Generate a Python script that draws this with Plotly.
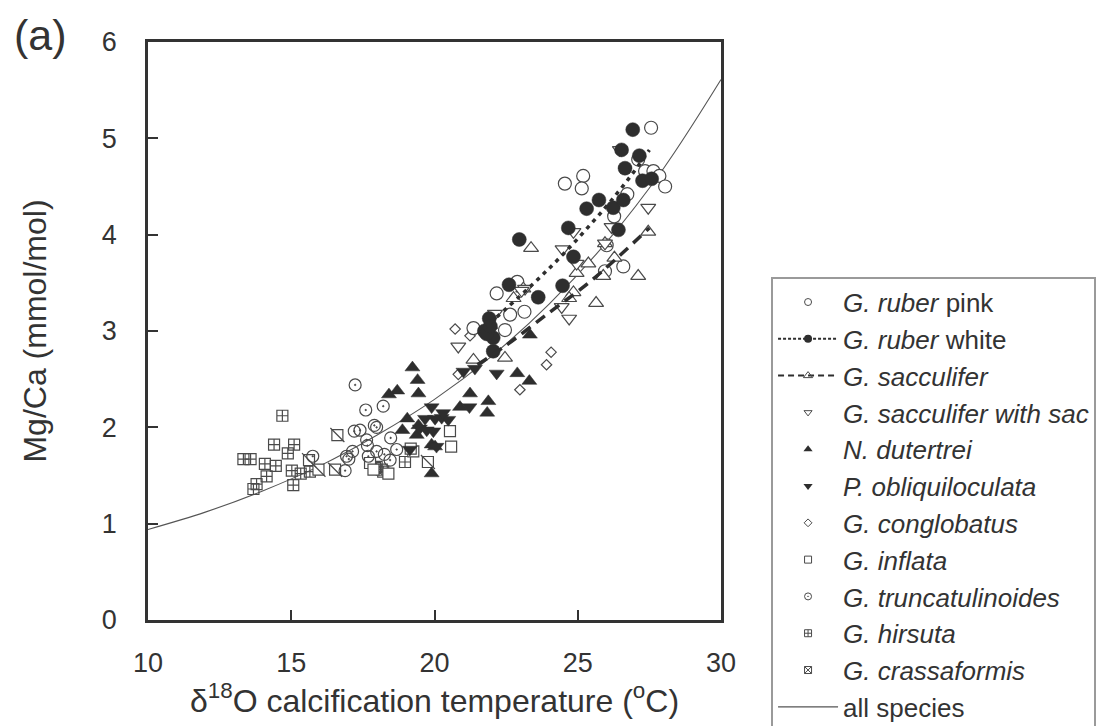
import plotly.graph_objects as go

# ---------------- data ----------------
ruber_pink_T = [27.56, 24.55, 25.19, 25.14, 27.35, 27.64, 27.85, 28.05, 27.11, 26.73, 26.27,
                26.01, 26.59, 25.95, 22.89, 22.17, 23.14, 22.64, 22.46, 21.36]
ruber_pink_Mg = [5.11, 4.53, 4.61, 4.48, 4.66, 4.66, 4.61, 4.50, 4.78, 4.42, 4.19,
                 3.89, 3.67, 3.62, 3.51, 3.39, 3.20, 3.17, 3.01, 3.03]

ruber_white_T = [26.92, 26.53, 27.15, 26.65, 27.26, 27.58, 25.74, 25.31, 26.24, 26.59, 26.42,
                 24.67, 22.96, 24.85, 22.60, 23.62, 24.47, 21.91, 21.74, 22.05, 21.82, 22.05, 21.95]
ruber_white_Mg = [5.09, 4.88, 4.82, 4.69, 4.56, 4.58, 4.36, 4.27, 4.28, 4.36, 4.05,
                  4.07, 3.95, 3.77, 3.48, 3.35, 3.47, 3.13, 3.00, 2.93, 2.97, 2.79, 3.05]

sacculifer_T = [23.37, 27.46, 27.11, 25.64, 26.28, 25.89, 25.37, 24.96, 24.85, 22.76, 23.10,
                21.94, 25.95, 22.46, 21.36, 24.70]
sacculifer_Mg = [3.86, 4.03, 3.57, 3.29, 3.76, 3.57, 3.70, 3.60, 3.40, 3.34, 3.44,
                 3.06, 3.91, 2.72, 2.70, 3.34]

sac_T = [26.47, 27.46, 25.95, 26.18, 24.47, 24.85, 24.96, 24.44, 24.70, 23.16, 22.11, 20.83, 23.04]
sac_Mg = [4.88, 4.28, 3.91, 4.08, 3.85, 4.03, 3.70, 3.25, 3.13, 3.44, 3.18, 2.84, 3.42]

dutertrei_T = [19.23, 19.41, 19.44, 18.70, 18.41, 19.05, 18.88, 19.38, 19.44, 19.90, 20.02,
               19.90, 21.24, 20.89, 21.88, 21.84, 22.89, 23.31, 23.33]
dutertrei_Mg = [2.62, 2.49, 2.35, 2.38, 2.34, 2.09, 1.97, 1.92, 2.02, 1.82, 1.80,
                1.52, 2.35, 2.21, 2.27, 2.15, 2.56, 2.48, 2.96]

obliq_T = [19.90, 19.67, 20.02, 20.25, 20.48, 19.49, 19.73, 19.96, 19.14, 20.07, 21.01,
           21.41, 22.17, 21.22, 20.30]
obliq_Mg = [2.21, 2.09, 2.09, 2.10, 2.08, 1.99, 1.97, 1.96, 1.77, 1.80, 2.58,
            2.61, 2.56, 2.21, 2.15]

conglob_T = [20.72, 21.24, 24.07, 23.91, 22.98, 20.83]
conglob_Mg = [3.02, 2.95, 2.78, 2.65, 2.39, 2.55]

inflata_T = [20.54, 20.58, 17.75, 17.87, 18.39, 19.26, 19.17]
inflata_Mg = [1.96, 1.80, 1.63, 1.56, 1.52, 1.75, 1.78]

trunc_T = [17.23, 17.60, 18.21, 17.20, 17.40, 17.90, 17.98, 18.47, 17.63, 17.66, 16.93,
           17.14, 17.01, 17.69, 17.98, 18.25, 18.68, 18.45, 15.75, 16.88]
trunc_Mg = [2.44, 2.18, 2.22, 1.96, 1.97, 2.02, 2.00, 1.89, 1.87, 1.81, 1.70,
            1.75, 1.67, 1.70, 1.75, 1.72, 1.77, 1.66, 1.70, 1.55]

hirsuta_T = [14.69, 14.40, 15.10, 13.33, 13.58, 14.88, 14.08, 14.46, 14.14, 15.02, 15.33,
             13.79, 13.68, 15.07, 15.65, 17.98, 18.21, 18.97, 17.92, 18.16]
hirsuta_Mg = [2.12, 1.82, 1.82, 1.67, 1.67, 1.73, 1.62, 1.60, 1.49, 1.55, 1.52,
              1.41, 1.36, 1.40, 1.54, 1.59, 1.54, 1.64, 1.58, 1.56]

crassa_T = [15.62, 15.95, 16.53, 16.61, 19.77]
crassa_Mg = [1.66, 1.56, 1.56, 1.92, 1.64]

# fitted curves
all_T = [10, 12, 14, 16, 18, 20, 22, 24, 26, 28, 30]
all_Mg = [0.94, 1.12, 1.34, 1.60, 1.92, 2.29, 2.74, 3.28, 3.92, 4.69, 5.61]

white_fit_T = [21.7, 23.3, 24.5, 25.9, 26.8, 27.5]
white_fit_Mg = [3.02, 3.45, 3.80, 4.26, 4.59, 4.88]

sacc_fit_T = [21.5, 22.4, 24.0, 25.5, 27.5]
sacc_fit_Mg = [2.65, 2.83, 3.19, 3.53, 4.07]

x_ticks = [10, 15, 20, 25, 30]
y_ticks = [0, 1, 2, 3, 4, 5, 6]

legend_names = ["<i>G. ruber</i> pink", "<i>G. ruber</i> white", "<i>G. sacculifer</i>",
                "<i>G. sacculifer with sac</i>", "<i>N. dutertrei</i>", "<i>P. obliquiloculata</i>",
                "<i>G. conglobatus</i>", "<i>G. inflata</i>", "<i>G. truncatulinoides</i>",
                "<i>G. hirsuta</i>", "<i>G. crassaformis</i>", "all species"]

# ---------------- styles ----------------
DARK = "#2e2e2e"
EDGE = "#4a4a4a"
TXT = "#333333"
FONT = "Liberation Sans, Arial, sans-serif"

fig = go.Figure()

# all-species curve (under markers)
fig.add_trace(go.Scatter(x=all_T, y=all_Mg, mode="lines", line=dict(color="#555", width=1.1, shape="spline"),
                         showlegend=False, hoverinfo="skip"))


def open_marker(symbol, size, fill="white"):
    return dict(symbol=symbol, size=size, color=fill, line=dict(color=EDGE, width=1.2))


def filled_marker(symbol, size):
    return dict(symbol=symbol, size=size, color=DARK, line=dict(color=DARK, width=0.5))


data_traces = [
    (hirsuta_T, hirsuta_Mg, dict(symbol="square-cross-open", size=11, color=EDGE, line=dict(width=1.2))),
    (crassa_T, crassa_Mg, open_marker("square", 11)),
    (inflata_T, inflata_Mg, open_marker("square", 11)),
    (trunc_T, trunc_Mg, dict(symbol="circle-open-dot", size=12, color=EDGE, line=dict(width=1.2))),
    (conglob_T, conglob_Mg, open_marker("diamond", 8)),
    (dutertrei_T, dutertrei_Mg, filled_marker("triangle-up", 13)),
    (obliq_T, obliq_Mg, filled_marker("triangle-down", 13)),
    (ruber_pink_T, ruber_pink_Mg, open_marker("circle", 13)),
    (sacculifer_T, sacculifer_Mg, open_marker("triangle-up", 13)),
    (sac_T, sac_Mg, open_marker("triangle-down", 13)),
    (ruber_white_T, ruber_white_Mg, filled_marker("circle", 14)),
]
for xs, ys, mk in data_traces:
    fig.add_trace(go.Scatter(x=xs, y=ys, mode="markers", marker=mk, showlegend=False, hoverinfo="x+y"))

# diagonal of the crassaformis squares
fig.add_trace(go.Scatter(x=crassa_T, y=crassa_Mg, mode="markers",
                         marker=dict(symbol="line-nw", size=14, line=dict(color=EDGE, width=1.2)),
                         showlegend=False, hoverinfo="skip"))

# species fits on top
fig.add_trace(go.Scatter(x=white_fit_T, y=white_fit_Mg, mode="lines",
                         line=dict(color=DARK, width=3.5, dash="4px,5px", shape="spline"),
                         showlegend=False, hoverinfo="skip"))
fig.add_trace(go.Scatter(x=sacc_fit_T, y=sacc_fit_Mg, mode="lines",
                         line=dict(color=DARK, width=3.5, dash="11px,7px", shape="spline"),
                         showlegend=False, hoverinfo="skip"))

# ---------------- legend entries ----------------
leg_specs = [
    dict(mode="markers", marker=dict(symbol="circle-open", size=7, color=EDGE, line=dict(width=1))),
    dict(mode="lines+markers", marker=dict(symbol="circle", size=8, color=DARK),
         line=dict(color=DARK, width=2, dash="3px,2px")),
    dict(mode="lines+markers", marker=dict(symbol="triangle-up-open", size=8, color=EDGE, line=dict(width=1)),
         line=dict(color=DARK, width=2, dash="6px,4px")),
    dict(mode="markers", marker=dict(symbol="triangle-down-open", size=7, color=EDGE, line=dict(width=1))),
    dict(mode="markers", marker=dict(symbol="triangle-up", size=8, color=DARK)),
    dict(mode="markers", marker=dict(symbol="triangle-down", size=8, color=DARK)),
    dict(mode="markers", marker=dict(symbol="diamond-open", size=6, color=EDGE, line=dict(width=1))),
    dict(mode="markers", marker=dict(symbol="square-open", size=7, color=EDGE, line=dict(width=1))),
    dict(mode="markers", marker=dict(symbol="circle-open-dot", size=7, color=EDGE, line=dict(width=1))),
    dict(mode="markers", marker=dict(symbol="square-cross-open", size=7, color=EDGE, line=dict(width=1))),
    dict(mode="markers", marker=dict(symbol="square-x-open", size=7, color=EDGE, line=dict(width=1))),
    dict(mode="lines", line=dict(color="#555", width=1.2)),
]
for i, (name, spec) in enumerate(zip(legend_names, leg_specs)):
    fig.add_trace(go.Scatter(x=[None], y=[None], name=name, legendgroup=f"g{i}", showlegend=True,
                             hoverinfo="skip", **spec))

# the page body has an 8px default margin, so margins are reduced by 8px on left/top
fig.update_layout(
    width=1112, height=726,
    margin=dict(l=140, r=399, t=34, b=114, autoexpand=False),
    paper_bgcolor="white", plot_bgcolor="white",
    font=dict(family=FONT, size=27, color=TXT),
    legend=dict(xref="container", yref="container", x=0.6862, y=0.630, xanchor="left", yanchor="top",
                bordercolor="#9a9a9a", borderwidth=2, bgcolor="white",
                font=dict(family=FONT, size=26, color=TXT), itemwidth=60, tracegroupgap=0,
                traceorder="grouped", maxheight=900, entrywidth=330, entrywidthmode="pixels"),
    xaxis=dict(range=[10, 30], tickvals=x_ticks, ticks="inside", ticklen=10, tickwidth=2, tickcolor="#333",
               showline=True, linewidth=2.5, linecolor="#333", mirror=True, showgrid=False, zeroline=False,
               ticklabelstandoff=17,
               title=dict(text="δ<sup>18</sup>O calcification temperature (<sup>o</sup>C)", standoff=4)),
    yaxis=dict(range=[0, 6], tickvals=y_ticks, ticks="inside", ticklen=10, tickwidth=2, tickcolor="#333",
               showline=True, linewidth=2.5, linecolor="#333", mirror=True, showgrid=False, zeroline=False,
               ticklabelstandoff=23,
               title=dict(text="Mg/Ca (mmol/mol)", standoff=46)),
    annotations=[dict(text="(a)", xref="paper", yref="paper", x=-0.188, y=1.012, xanchor="center",
                      yanchor="middle", showarrow=False, font=dict(family=FONT, size=43, color=TXT))],
)

fig.write_html("out.html")
